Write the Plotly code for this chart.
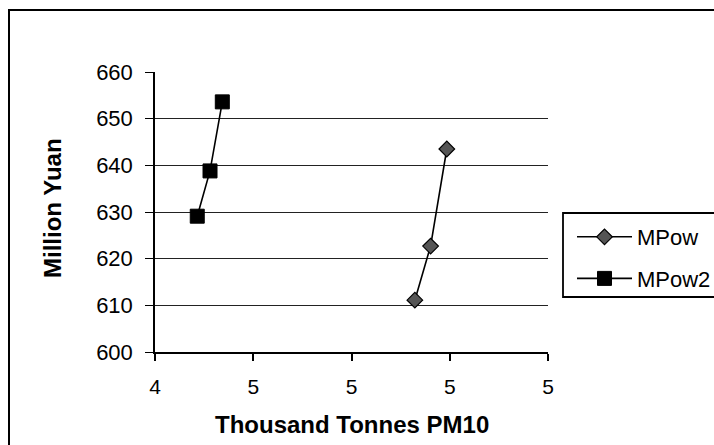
import plotly.graph_objects as go

# Data
mpow_x = [4.929, 4.961, 4.994]
mpow_y = [611.1, 622.7, 643.5]
mpow2_x = [4.486, 4.512, 4.537]
mpow2_y = [629.1, 638.8, 653.6]

x_ticks = [4.4, 4.6, 4.8, 5.0, 5.2]
x_tick_labels = ["4", "5", "5", "5", "5"]
y_ticks = [600, 610, 620, 630, 640, 650, 660]

W, H = 714, 445
L, R, T, B = 155, 548, 72, 352  # plot area pixel box

def px(xp):
    return (xp - L) / (R - L)

def py(yp):
    return (B - yp) / (B - T)

FONT = "Liberation Sans, Arial, sans-serif"

fig = go.Figure()
fig.add_trace(go.Scatter(
    x=mpow_x, y=mpow_y, name="MPow", mode="lines+markers",
    line=dict(color="black", width=1.6),
    marker=dict(symbol="diamond", size=12, color="#555555",
                line=dict(color="black", width=1.2)),
    legendgroup="a"))
fig.add_trace(go.Scatter(
    x=mpow2_x, y=mpow2_y, name="MPow2", mode="lines+markers",
    line=dict(color="black", width=1.6),
    marker=dict(symbol="square", size=14, color="black",
                line=dict(color="black", width=1)),
    legendgroup="b"))

fig.update_layout(
    width=W, height=H,
    margin=dict(l=L, r=W - R, t=T, b=H - B, autoexpand=False),
    paper_bgcolor="white", plot_bgcolor="white",
    font=dict(family=FONT, color="black", size=21),
    showlegend=True,
    legend=dict(x=px(572), y=py(216), xanchor="left", yanchor="top",
                bgcolor="rgba(0,0,0,0)", borderwidth=0,
                font=dict(size=22, family=FONT, color="black"),
                tracegroupgap=10, itemwidth=55, traceorder="grouped"),
    xaxis=dict(range=[4.4, 5.2], tickvals=x_ticks, ticktext=x_tick_labels,
               showgrid=False, zeroline=False, showline=True,
               linecolor="black", linewidth=1.5, ticks="outside",
               ticklen=7, tickcolor="black", tickwidth=1.5,
               ticklabelstandoff=8,
               tickfont=dict(size=21, family=FONT)),
    yaxis=dict(range=[600, 660], tickvals=y_ticks,
               showgrid=True, gridcolor="#222222", gridwidth=1.3,
               zeroline=False, showline=True,
               linecolor="black", linewidth=1.5, ticks="outside",
               ticklen=8, tickcolor="black", tickwidth=1.3,
               ticklabelstandoff=8,
               tickfont=dict(size=22, family=FONT)),
    shapes=[
        dict(type="rect", xref="paper", yref="paper",
             x0=px(9), x1=px(740), y0=py(470), y1=py(10),
             line=dict(color="black", width=2), layer="below"),
        dict(type="rect", xref="paper", yref="paper",
             x0=px(563), x1=px(740), y0=py(297), y1=py(213),
             line=dict(color="black", width=1.8)),
    ],
    annotations=[
        dict(text="<b>Thousand Tonnes PM10</b>", xref="paper", yref="paper",
             x=px(352), y=py(424), xanchor="center", yanchor="middle",
             showarrow=False, font=dict(size=24, family=FONT)),
        dict(text="<b>Million Yuan</b>", xref="paper", yref="paper",
             x=px(52), y=py(208), xanchor="center", yanchor="middle",
             textangle=-90, showarrow=False, font=dict(size=24, family=FONT)),
    ],
)

fig.write_html("out.html")
